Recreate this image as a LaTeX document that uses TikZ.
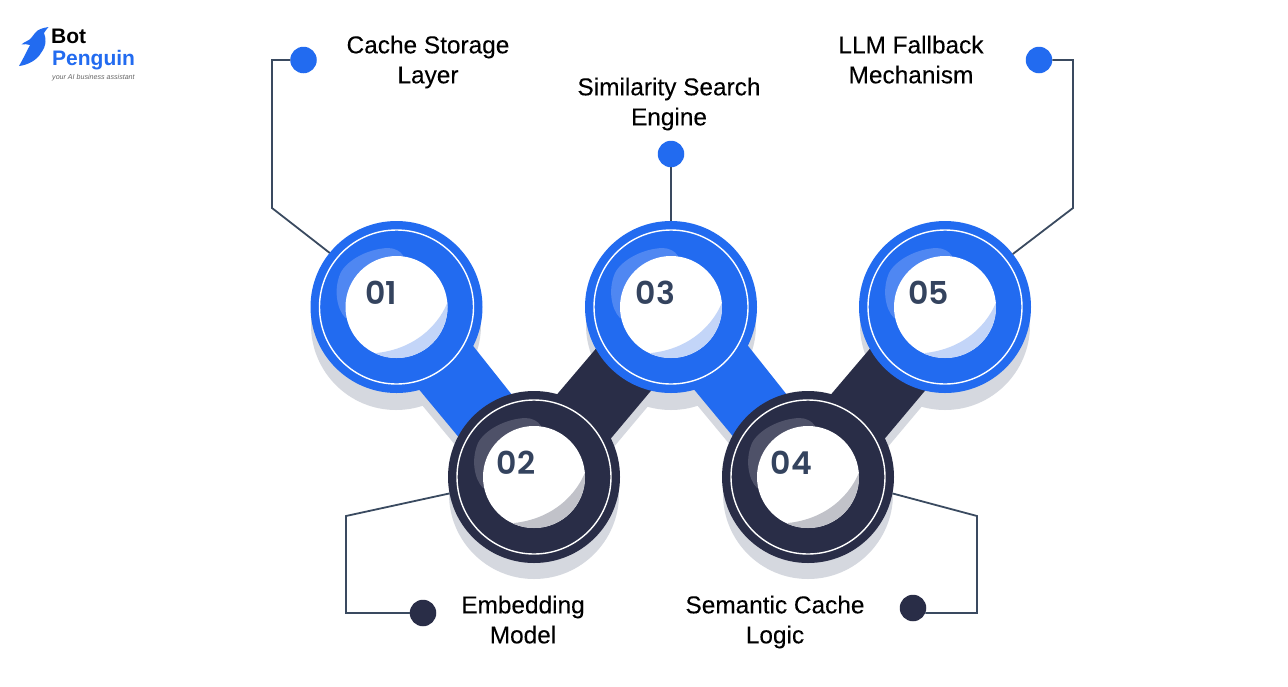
\documentclass[tikz,border=0pt]{standalone}
\usepackage{fontspec}
\setmainfont{Liberation Sans}
\newfontfamily\numfont[UprightFont=* SemiBold]{Poppins}
\newfontfamily\labfont[FakeBold=0.12]{Liberation Sans}
\definecolor{bblue}{HTML}{226BF0}
\definecolor{navy}{HTML}{292D47}
\definecolor{wire}{HTML}{3A4A60}
\definecolor{numc}{HTML}{34435E}
\definecolor{castshadow}{HTML}{D5D8DF}
\definecolor{crescentblue}{HTML}{C3D5F8}
\definecolor{crescentnavy}{HTML}{C1C2C9}
\definecolor{glowblue}{HTML}{4F87F2}
\definecolor{glownavy}{HTML}{4E5168}
\newcommand{\lft}{\vphantom{Ag}}
\tikzset{
 x=1pt,y=-1pt,
 ring/.style={circle,minimum size=172pt,inner sep=0pt,outer sep=0pt,fill=#1},
 dot/.style={circle,minimum size=26.5pt,inner sep=0pt,outer sep=0pt,fill=#1},
 wireline/.style={draw=wire,line width=1.8pt,line join=miter},
 lab/.style={align=center,font=\fontsize{24.4pt}{30pt}\labfont,text=black,inner sep=0pt},
 num/.style={font=\fontsize{31.5pt}{31.5pt}\numfont,text=numc,inner sep=0pt},
}
% #1 x, #2 y, #3 ring colour, #4 crescent colour, #5 glow colour, #6 name
\newcommand{\hubdisc}[6]{%
 \node[ring=#3] (c#6) at (#1,#2) {};
 \begin{scope}[shift={(#1,#2)}]
  \draw[white,line width=1.4pt] (0,0) circle[radius=77];
  \fill[#5] (-51,11) .. controls (-60,2) and (-63,-18) .. (-56,-34)
     .. controls (-50,-46) and (-30,-58) .. (-9,-59)
     .. controls (-2,-59) and (4,-56) .. (7,-51) -- (0,0) -- cycle;
  \fill[white] (0,0) circle[radius=51];
  \begin{scope}
   \clip (0,0) circle[radius=51];
   \fill[#4] (53,-10) .. controls (44,18) and (18,42) .. (-20,46)
      -- (-30,70) -- (70,70) -- cycle;
  \end{scope}
 \end{scope}}
\begin{document}
\begin{tikzpicture}
\useasboundingbox (0,0) rectangle (1288,686);
\fill[white] (0,0) rectangle (1288,686);
% cast shadows
\foreach \p in {(396,325),(534,494),(671,325),(808,494),(945,325)}
  \fill[castshadow] \p circle[radius=85];
\begin{scope}[shift={(0,12)}]
\fill[castshadow] (412,381) -- (466,337) -- (520,405) -- (466,446) -- cycle;
\fill[castshadow] (548,405) -- (605,338) -- (660,380) -- (602,449) -- cycle;
\fill[castshadow] (687,381) -- (741,337) -- (795,405) -- (741,446) -- cycle;
\fill[castshadow] (822,405) -- (879,338) -- (934,380) -- (876,449) -- cycle;
\end{scope}
% bars
\fill[bblue] (412,381) -- (466,337) -- (520,405) -- (466,446) -- cycle;
\fill[navy] (548,405) -- (605,338) -- (660,380) -- (602,449) -- cycle;
\fill[bblue] (687,381) -- (741,337) -- (795,405) -- (741,446) -- cycle;
\fill[navy] (822,405) -- (879,338) -- (934,380) -- (876,449) -- cycle;
% discs
\hubdisc{396.5}{307}{bblue}{crescentblue}{glowblue}{1}
\hubdisc{671}{307}{bblue}{crescentblue}{glowblue}{3}
\hubdisc{945}{307}{bblue}{crescentblue}{glowblue}{5}
\hubdisc{534}{477}{navy}{crescentnavy}{glownavy}{2}
\hubdisc{808}{477}{navy}{crescentnavy}{glownavy}{4}
\node[num] (n1) at (381,293) {01};
\node[num] (n2) at (516,463) {02};
\node[num] (n3) at (655.5,293) {03};
\node[num] (n4) at (791.5,463) {04};
\node[num] (n5) at (928.5,293) {05};
% dots
\node[dot=bblue] (d1) at (303.5,60) {};
\node[dot=bblue] (d3) at (671,154) {};
\node[dot=bblue] (d5) at (1039,60) {};
\node[dot=navy] (d2) at (423,613) {};
\node[dot=navy] (d4) at (913,608) {};
% connectors
\coordinate (k1a) at (272,60); \coordinate (k1b) at (272,208);
\coordinate (k5a) at (1073,60); \coordinate (k5b) at (1073,208);
\coordinate (k2a) at (346,613); \coordinate (k2b) at (346,516);
\coordinate (k4a) at (977,613); \coordinate (k4b) at (977,516);
\draw[wireline] (d1) -- (k1a) -- (k1b) -- (c1.141);
\draw[wireline] (d3) -- (c3.90);
\draw[wireline] (d5) -- (k5a) -- (k5b) -- (c5.38);
\draw[wireline] (d2) -- (k2a) -- (k2b) -- (c2.191);
\draw[wireline] (d4.-22) -- (k4a) -- (k4b) -- (c4.-11);
% labels
\node[lab] (t1) at (428,62) {\lft Cache Storage\\\lft Layer};
\node[lab] (t3) at (669,104) {\lft Similarity Search\\\lft Engine};
\node[lab] (t5) at (911,62) {\lft LLM Fallback\\\lft Mechanism};
\node[lab] (t2) at (523,622) {\lft Embedding\\\lft Model};
\node[lab] (t4) at (775,622) {\lft Semantic Cache\\\lft Logic};
% logo
\fill[bblue] (48.5,27) .. controls (43,28) and (38,29) .. (35,33)
  .. controls (32,37) and (30,40) .. (27,41) .. controls (25,42) and (23,43) .. (21.5,44.5)
  .. controls (24,44) and (27,44) .. (30,45) .. controls (27,51) and (23,59) .. (19,66)
  .. controls (28,65) and (37,60) .. (41,53) .. controls (47,45) and (46,38) .. (44,33)
  .. controls (45,31) and (47,29) .. (48.5,27) -- cycle;
\node[inner sep=0pt,anchor=base west,font=\fontsize{21pt}{21pt}\selectfont\bfseries] (lb) at (51,43) {Bot};
\node[inner sep=0pt,anchor=base west,font=\fontsize{21pt}{21pt}\selectfont\bfseries,text=bblue] (lp) at (52,65) {Penguin};
\node[inner sep=0pt,anchor=base west,font=\fontsize{7.1pt}{7.1pt}\selectfont\itshape,text=black!60] (lt) at (52,79) {your AI business assistant};
\end{tikzpicture}
\end{document}
